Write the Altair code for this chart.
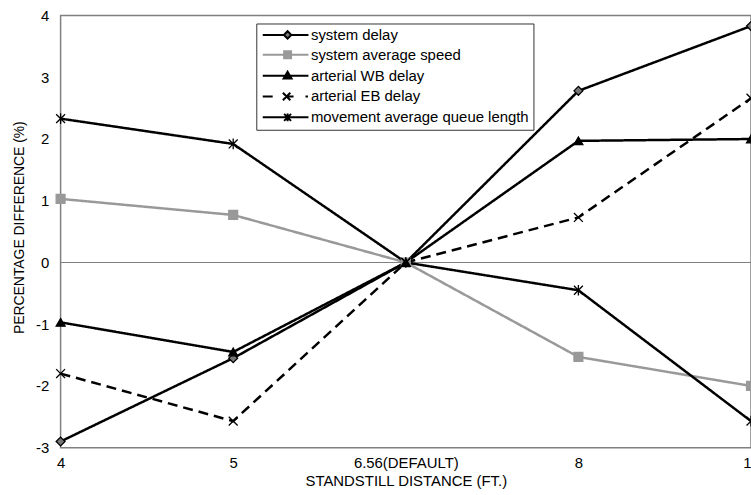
import altair as alt
import pandas as pd

# Standstill distance settings (ft.) and percentage differences for each measure
distances = ["4", "5", "6.56(DEFAULT)", "8", "10"]
series = [
    "system delay",
    "system average speed",
    "arterial WB delay",
    "arterial EB delay",
    "movement average queue length",
]
system_delay = [-2.90, -1.55, 0.0, 2.78, 3.83]
system_average_speed = [1.03, 0.77, 0.0, -1.53, -2.00]
arterial_wb_delay = [-0.97, -1.45, 0.0, 1.97, 2.00]
arterial_eb_delay = [-1.80, -2.57, 0.0, 0.73, 2.66]
movement_queue_length = [2.33, 1.92, 0.0, -0.45, -2.57]

values = [system_delay, system_average_speed, arterial_wb_delay,
          arterial_eb_delay, movement_queue_length]
rows = []
for name, vals in zip(series, values):
    for d, v in zip(distances, vals):
        rows.append({"distance": d, "series": name, "pct": v})
df = pd.DataFrame(rows)

FONT = "Liberation Sans"
FS = 15
W, H = 695, 435

line_colors = ["#000000", "#999999", "#000000", "#000000", "#000000"]
dashes = [[1, 0], [1, 0], [1, 0], [10, 6], [1, 0]]
marker_fill = ["#777777", "#999999", "#000000", "#000000", "#000000"]
marker_stroke = ["#000000", "#999999", "#000000", "#000000", "#000000"]
marker_shapes = [
    "diamond",
    "square",
    "triangle-up",
    "M-1,-1L1,1M-1,1L1,-1",
    "M-1,-1L1,1M-1,1L1,-1M0,-1.2L0,1.2",
]
# legend keys: a short line segment with the series marker on it
legend_shapes = [
    "M-1,0H3.3M4.7,0H8.2M4,-0.75L4.75,0L4,0.75L3.25,0Z",
    "M-1,0H3.3M4.7,0H8.2M3.3,-0.7H4.7V0.7H3.3Z",
    "M-1,0H8.2M3.2,0.6L4.8,0.6L4,-0.8Z",
    "M-1,0H1M3.05,-0.75L4.55,0.75M3.05,0.75L4.55,-0.75M3.8,0H5.2M7.6,0H8.1",
    "M-1,0H8.2M3.3,-0.7L4.7,0.7M3.3,0.7L4.7,-0.7M4,-0.8V0.8",
]

x_enc = alt.X(
    "distance:N",
    sort=distances,
    scale=alt.Scale(domain=distances, type="point", padding=0),
    axis=alt.Axis(
        title="STANDSTILL DISTANCE (FT.)",
        labelAngle=0,
        ticks=False,
        domain=False,
        grid=False,
        labelPadding=8,
        labelFontSize=FS,
        labelColor="#000000",
        titleFontSize=FS,
        titleFontWeight="normal",
        titleColor="#000000",
        titleBaseline="middle",
        titleX=W / 2,
        titleY=33,
    ),
)
y_enc = alt.Y(
    "pct:Q",
    scale=alt.Scale(domain=[-3, 4], nice=False, zero=False),
    axis=alt.Axis(
        title="PERCENTAGE DIFFERENCE (%)",
        values=[-3, -2, -1, 0, 1, 2, 3, 4],
        labelExpr="'' + datum.value",
        ticks=False,
        domain=False,
        grid=False,
        labelPadding=12,
        labelFontSize=FS,
        labelColor="#000000",
        titleFontSize=14,
        titleFontWeight="normal",
        titleColor="#000000",
        titleBaseline="middle",
        titleAlign="center",
        titleAngle=-90,
        titleX=-41,
        titleY=213,
    ),
)

base = alt.Chart(df)

zero_rule = alt.Chart(pd.DataFrame({"pct": [0]})).mark_rule(
    color="#808080", strokeWidth=1.2
).encode(y=alt.Y("pct:Q", scale=alt.Scale(domain=[-3, 4], nice=False, zero=False)))

lines = base.mark_line(strokeWidth=2.5).encode(
    x=x_enc,
    y=y_enc,
    color=alt.Color("series:N", scale=alt.Scale(domain=series, range=line_colors), legend=None),
    strokeDash=alt.StrokeDash("series:N", scale=alt.Scale(domain=series, range=dashes), legend=None),
    detail="series:N",
)

points = base.mark_point(size=80, strokeWidth=1.3, opacity=1).encode(
    x=x_enc,
    y=y_enc,
    shape=alt.Shape("series:N", scale=alt.Scale(domain=series, range=marker_shapes), legend=None),
    fill=alt.Fill("series:N", scale=alt.Scale(domain=series, range=marker_fill), legend=None),
    stroke=alt.Stroke("series:N", scale=alt.Scale(domain=series, range=marker_stroke), legend=None),
)

legend_cfg = dict(
    title=None,
    orient="none",
    legendX=197,
    legendY=8,
    padding=4,
    strokeColor="#333333",
    fillColor="#ffffff",
    symbolSize=100,
    symbolStrokeWidth=2,
    labelFont=FONT,
    labelFontSize=FS,
    labelColor="#000000",
    labelLimit=0,
    labelOffset=36,
    rowPadding=4,
)

legend_keys = alt.Chart(pd.DataFrame({"series": series})).mark_point(
    clip=True, opacity=1, size=100
).encode(
    x=alt.value(-200),
    y=alt.value(-200),
    shape=alt.Shape("series:N", scale=alt.Scale(domain=series, range=legend_shapes),
                    legend=alt.Legend(**legend_cfg)),
    fill=alt.Fill("series:N", scale=alt.Scale(domain=series, range=marker_fill),
                  legend=alt.Legend(**legend_cfg)),
    stroke=alt.Stroke("series:N", scale=alt.Scale(domain=series, range=marker_stroke),
                      legend=alt.Legend(**legend_cfg)),
)

chart = (
    alt.layer(zero_rule, lines, points, legend_keys)
    .resolve_scale(shape="independent", fill="independent", stroke="independent")
    .properties(
        width=W,
        height=H,
        autosize=alt.AutoSizeParams(type="none"),
        padding={"left": 61, "top": 14, "right": 0, "bottom": 46},
    )
    .configure(font=FONT)
    .configure_view(stroke="#808080", strokeWidth=1.5)
)

chart.save("out.html", embed_options={"renderer": "svg", "actions": False})
